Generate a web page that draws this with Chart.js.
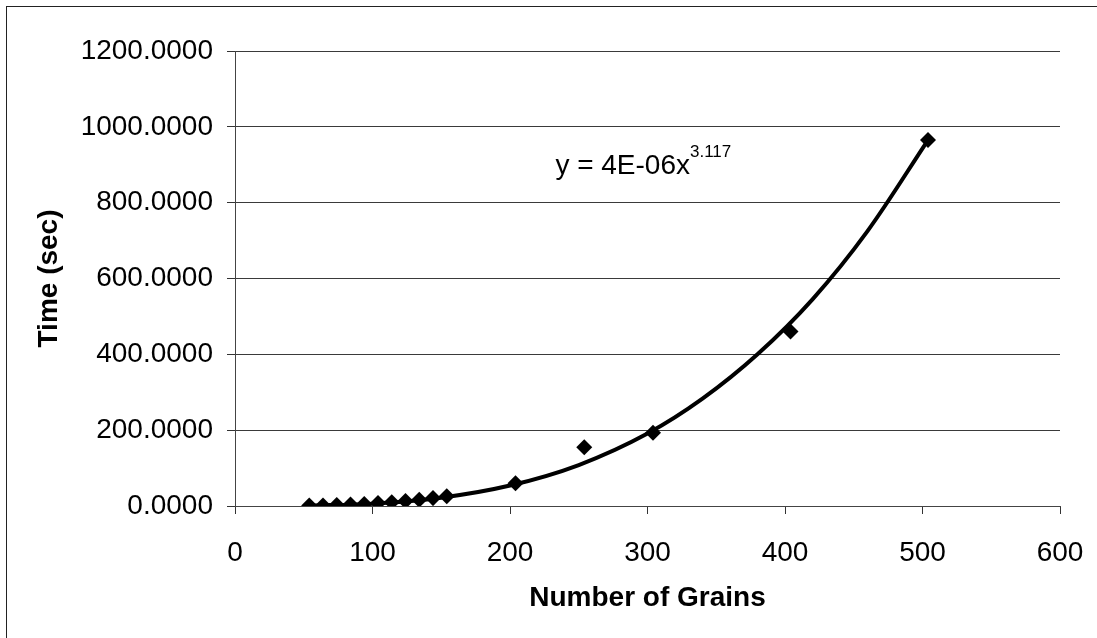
<!DOCTYPE html>
<html>
<head>
<meta charset="utf-8">
<script src="https://cdn.jsdelivr.net/npm/chart.js@4"></script>
<style>
  html, body { margin: 0; padding: 0; background: #fff; }
  #marco {
    position: absolute;
    left: 0; top: 0;
    width: 1097px; height: 638px;
  }
  #borde {
    position: absolute;
    left: 6px; top: 6px;
    width: 1097px; height: 638px;
    border-left: 1px solid #222;
    border-top: 1px solid #222;
    pointer-events: none;
  }
</style>
</head>
<body>
<div id="marco"><canvas id="plot1"></canvas></div>
<div id="borde"></div>
<script>
// datos
let grains = [54, 64, 74, 84, 94, 104, 114, 124, 134, 144, 154, 204, 254, 304, 404, 504];
let timeSec = [1.0, 1.6, 2.6, 3.9, 5.6, 7.6, 10.1, 13.0, 16.6, 20.8, 25.5, 60, 155, 193, 460, 965];

// linea de tendencia (potencial)
let trendX = [54, 100, 150, 200, 250, 300, 340, 380, 420, 460, 504];
let trendY = [0.9, 6.2, 22, 54, 108, 191, 283, 400, 545, 725, 965];

let yTicks = [0, 200, 400, 600, 800, 1000, 1200];
let xTicks = [0, 100, 200, 300, 400, 500, 600];

let ecuacion = "y = 4E-06x";
let exponente = "3.117";

let fuente = "'Liberation Sans', Arial, sans-serif";

let toPoints = (xs, ys) => xs.map((x, i) => ({ x: x, y: ys[i] }));

// etiqueta de la ecuacion, anclada en coordenadas de datos
let ecuacionPlugin = {
  id: "ecuacion",
  afterDatasetsDraw: (chart) => {
    let ctx = chart.ctx;
    let px = chart.scales.x.getPixelForValue(233);
    let py = chart.scales.y.getPixelForValue(875);
    ctx.save();
    ctx.fillStyle = "#000";
    ctx.textBaseline = "alphabetic";
    ctx.textAlign = "left";
    ctx.font = "28px " + fuente;
    ctx.fillText(ecuacion, px, py);
    let w = ctx.measureText(ecuacion).width;
    ctx.font = "17px " + fuente;
    ctx.fillText(exponente, px + w, py - 17);
    ctx.restore();
  },
};

let plotRef = document.getElementById("plot1");

let config = {
  type: "scatter",
  data: {
    datasets: [
      {
        label: "Time",
        data: toPoints(grains, timeSec),
        pointStyle: "rectRot",
        pointRadius: 8,
        pointHoverRadius: 8,
        backgroundColor: "#000",
        borderColor: "#000",
        borderWidth: 0,
        showLine: false,
      },
      {
        label: "Power trend",
        data: toPoints(trendX, trendY),
        showLine: true,
        pointRadius: 0,
        borderColor: "#000",
        borderWidth: 4,
        cubicInterpolationMode: "monotone",
        fill: false,
      },
    ],
  },
  options: {
    responsive: true,
    maintainAspectRatio: false,
    animation: false,
    devicePixelRatio: 1,
    layout: { padding: { left: 0, top: 51, right: 37, bottom: 0 } },
    plugins: {
      legend: { display: false },
      tooltip: { enabled: false },
    },
    scales: {
      x: {
        type: "linear",
        min: 0,
        max: 600,
        afterBuildTicks: (scale) => {
          scale.ticks = xTicks.map((v) => ({ value: v }));
        },
        afterFit: (scale) => {
          scale.height = 132;
          scale.paddingLeft = 0;
          scale.paddingRight = 0;
        },
        grid: {
          drawOnChartArea: false,
          drawTicks: true,
          tickLength: 8,
          tickColor: "#333",
        },
        border: { color: "#444", width: 1 },
        ticks: {
          color: "#000",
          padding: 22,
          maxRotation: 0,
          font: { family: fuente, size: 28 },
        },
        title: {
          display: true,
          text: "Number of Grains",
          color: "#000",
          font: { family: fuente, size: 28, weight: "bold" },
          padding: { top: 0, bottom: 23 },
        },
      },
      y: {
        type: "linear",
        min: 0,
        max: 1200,
        afterBuildTicks: (scale) => {
          scale.ticks = yTicks.map((v) => ({ value: v }));
        },
        afterFit: (scale) => {
          scale.width = 235;
          scale.paddingTop = 0;
          scale.paddingBottom = 0;
        },
        grid: {
          color: "#3a3a3a",
          lineWidth: 1,
          drawTicks: true,
          tickLength: 8,
          tickColor: "#333",
        },
        border: { color: "#444", width: 1 },
        ticks: {
          color: "#000",
          padding: 14,
          font: { family: fuente, size: 28 },
          callback: (v) => Number(v).toFixed(4),
        },
        title: {
          display: true,
          text: "Time (sec)",
          color: "#000",
          font: { family: fuente, size: 28, weight: "bold" },
          padding: { top: 32, bottom: 0 },
        },
      },
    },
  },
  plugins: [ecuacionPlugin],
};

let chart1 = new Chart(plotRef, config);
</script>
</body>
</html>
